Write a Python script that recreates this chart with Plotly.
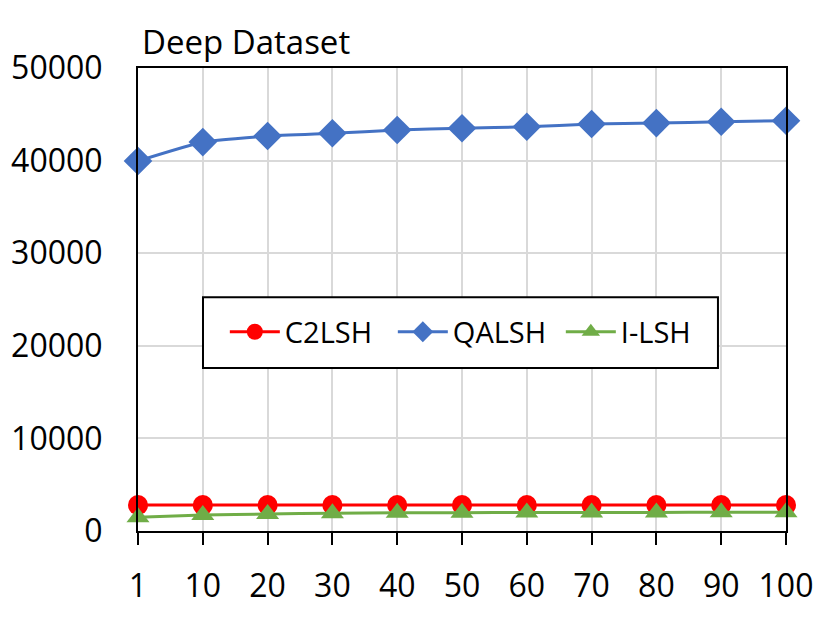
import plotly.graph_objects as go

categories = ["1", "10", "20", "30", "40", "50", "60", "70", "80", "90", "100"]
c2lsh = [2800, 2800, 2800, 2800, 2800, 2800, 2800, 2800, 2800, 2800, 2800]
qalsh = [39950, 42000, 42650, 42950, 43300, 43500, 43650, 43950, 44050, 44200, 44300]
ilsh = [1480, 1730, 1840, 1910, 1960, 1980, 2000, 2000, 2010, 2020, 2030]
y_ticks = [0, 10000, 20000, 30000, 40000, 50000]

FONT = "Open Sans"
x_idx = list(range(len(categories)))

fig = go.Figure()
fig.add_trace(go.Scatter(x=x_idx, y=c2lsh, name="C2LSH", mode="lines+markers",
                         line=dict(color="#ff0000", width=3, shape="spline", smoothing=0.4),
                         marker=dict(symbol="circle", size=20, color="#ff0000"),
                         cliponaxis=False))
fig.add_trace(go.Scatter(x=x_idx, y=qalsh, name="QALSH", mode="lines+markers",
                         line=dict(color="#4472c4", width=3, shape="spline", smoothing=0.4),
                         marker=dict(symbol="diamond", size=22, color="#4472c4"),
                         cliponaxis=False))
fig.add_trace(go.Scatter(x=x_idx, y=ilsh, name="I-LSH", mode="lines+markers",
                         line=dict(color="#70ad47", width=3, shape="spline", smoothing=0.4),
                         marker=dict(symbol="triangle-up", size=20, color="#70ad47"),
                         cliponaxis=False))

# legend frame
fig.add_shape(type="rect", xref="paper", yref="paper",
              x0=0.1003, x1=0.895, y0=0.352, y1=0.505,
              line=dict(color="black", width=2), fillcolor="white", layer="above")

fig.update_layout(
    width=831, height=630,
    margin=dict(l=130, r=53, t=60, b=107, autoexpand=False),
    paper_bgcolor="white", plot_bgcolor="white",
    font=dict(family=FONT, size=30, color="black"),
    title=dict(text="Deep Dataset", x=134 / 831, xanchor="left", xref="container",
               y=1 - 34 / 630, yanchor="middle", yref="container",
               font=dict(family=FONT, size=33, color="black")),
    legend=dict(orientation="h", x=0.134, y=0.43, xanchor="left", yanchor="middle",
                borderwidth=0, bgcolor="rgba(0,0,0,0)",
                font=dict(family=FONT, size=29, color="black"),
                entrywidth=103, itemwidth=50),
    xaxis=dict(range=[0, 10], tickmode="array", tickvals=x_idx, ticktext=categories,
               showgrid=True, gridcolor="#d9d9d9", gridwidth=2,
               showline=True, linecolor="black", linewidth=2, mirror=True,
               ticks="outside", ticklen=12, tickwidth=2, tickcolor="black",
               ticklabelstandoff=14, automargin=False,
               tickfont=dict(family=FONT, size=32, color="black"), zeroline=False),
    yaxis=dict(range=[0, 50000], tickmode="array", tickvals=y_ticks,
               ticktext=[str(v) for v in y_ticks],
               showgrid=True, gridcolor="#d9d9d9", gridwidth=2,
               showline=True, linecolor="black", linewidth=2, mirror=True,
               ticks="", ticklabelstandoff=27, automargin=False,
               tickfont=dict(family=FONT, size=32, color="black"), zeroline=False),
)

fig.write_html("out.html")
